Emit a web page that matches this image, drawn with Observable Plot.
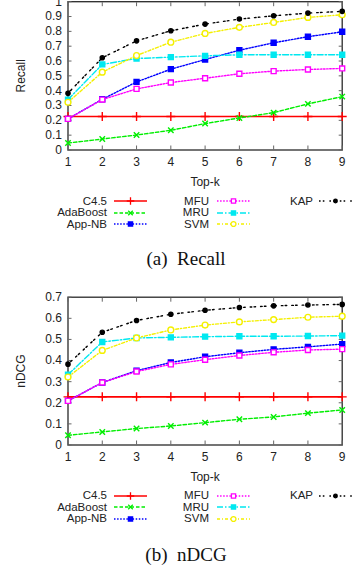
<!DOCTYPE html>
<html><head><meta charset="utf-8">
<script src="https://cdn.jsdelivr.net/npm/d3@7"></script>
<script src="https://cdn.jsdelivr.net/npm/@observablehq/plot@0.6"></script>
<style>
body{margin:0;background:#fff;}
#root{position:relative;width:354px;height:571px;overflow:hidden;font-family:"Liberation Sans",Arial,sans-serif;color:#222;}
.panel{position:absolute;left:0;}
.lab{position:absolute;font-size:11.5px;line-height:11px;height:11px;text-align:right;white-space:nowrap;}
.sample{position:absolute;overflow:visible;}
.cap{position:absolute;left:0;width:372px;text-align:center;font-family:"Liberation Serif","Times New Roman",serif;font-size:19px;line-height:22px;white-space:pre;color:#111;}
</style></head><body><div id="root"></div>
<script>
// ---- data ----
const topK = [1, 2, 3, 4, 5, 6, 7, 8, 9];
const methods = ["C4.5", "AdaBoost", "App-NB", "MFU", "MRU", "SVM", "KAP"];

const recallC45      = [0.226, 0.226, 0.226, 0.226, 0.226, 0.226, 0.226, 0.226, 0.226];
const recallAdaBoost = [0.047, 0.074, 0.101, 0.133, 0.178, 0.216, 0.252, 0.311, 0.360];
const recallAppNB    = [0.210, 0.342, 0.459, 0.545, 0.610, 0.673, 0.723, 0.764, 0.797];
const recallMFU      = [0.210, 0.340, 0.412, 0.455, 0.484, 0.514, 0.532, 0.543, 0.550];
const recallMRU      = [0.340, 0.577, 0.617, 0.626, 0.635, 0.642, 0.642, 0.642, 0.642];
const recallSVM      = [0.322, 0.525, 0.637, 0.727, 0.786, 0.827, 0.860, 0.894, 0.912];
const recallKAP      = [0.383, 0.622, 0.736, 0.804, 0.849, 0.883, 0.905, 0.923, 0.935];

const ndcgC45      = [0.228, 0.228, 0.228, 0.228, 0.228, 0.228, 0.228, 0.228, 0.228];
const ndcgAdaBoost = [0.046, 0.062, 0.078, 0.090, 0.106, 0.122, 0.133, 0.151, 0.166];
const ndcgAppNB    = [0.209, 0.296, 0.352, 0.391, 0.418, 0.437, 0.453, 0.465, 0.478];
const ndcgMFU      = [0.209, 0.296, 0.348, 0.382, 0.404, 0.424, 0.439, 0.450, 0.454];
const ndcgMRU      = [0.333, 0.488, 0.507, 0.510, 0.513, 0.515, 0.515, 0.516, 0.518];
const ndcgSVM      = [0.322, 0.448, 0.507, 0.545, 0.568, 0.583, 0.594, 0.605, 0.610];
const ndcgKAP      = [0.383, 0.534, 0.590, 0.619, 0.638, 0.651, 0.659, 0.663, 0.666];

const recallTicks = [0, 0.1, 0.2, 0.3, 0.4, 0.5, 0.6, 0.7, 0.8, 0.9, 1];
const ndcgTicks = [0, 0.1, 0.2, 0.3, 0.4, 0.5, 0.6, 0.7];

// ---- styles ----
const colors  = ["#ff0000", "#00ee00", "#0000ff", "#ff00ff", "#00e8f0", "#f4f000", "#000000"];
const dashes  = [null, "3.5,2", "1.5,1.6", "1.5,1.6", "6,2,1.5,2", "3,2,1,2", "1.6,2.2,1.6,5"];
const symbols = ["plus", "times", "square", "square", "square", "circle", "circle"];
const filled  = [false, false, true, false, true, false, true];
const radii   = [3.0, 2.6, 2.8, 2.8, 2.8, 2.9, 2.1];

function buildRows(series) {
  const rows = [];
  series.forEach((vals, i) => vals.forEach((v, j) => rows.push({method: methods[i], idx: i, k: topK[j], v})));
  return rows;
}

function panel(series, yMax, yTicks, yLabel, height, marginTop) {
  const rows = buildRows(series);
  const marks = [
    Plot.frame({stroke: "#2a2a2a", strokeWidth: 1.3}),
    Plot.axisX(topK, {anchor: "bottom", tickSize: -4, fill: "none", stroke: "#666", label: null}),
    Plot.axisX(topK, {anchor: "top", tickSize: -4, fill: "none", stroke: "#666", label: null}),
    Plot.axisY(yTicks, {anchor: "left", tickSize: -4, fill: "none", stroke: "#666", label: null}),
    Plot.axisY(yTicks, {anchor: "right", tickSize: -4, fill: "none", stroke: "#666", label: null}),
    Plot.axisX(topK, {anchor: "bottom", tickSize: 0, tickPadding: 7, fill: "#222", label: "Top-k", labelAnchor: "center", labelArrow: "none", labelOffset: 36}),
    Plot.axisY(yTicks, {anchor: "left", tickSize: 0, tickPadding: 6, fill: "#222", tickFormat: d3.format("~g"), label: yLabel, labelAnchor: "center", labelArrow: "none", labelOffset: 52})
  ];
  methods.forEach((m, i) => {
    const d = rows.filter(r => r.idx === i);
    marks.push(Plot.line(d, {x: "k", y: "v", stroke: colors[i], strokeWidth: i === 0 ? 1.7 : 1.4, strokeDasharray: dashes[i]}));
    marks.push(Plot.dot(d, {x: "k", y: "v", symbol: symbols[i], r: radii[i],
      stroke: colors[i], strokeWidth: 1.4, fill: filled[i] ? colors[i] : (symbols[i] === "plus" || symbols[i] === "times" ? "none" : "white")}));
  });
  return Plot.plot({
    width: 354, height, marginLeft: 67.5, marginRight: 12.3, marginTop, marginBottom: 40.5,
    x: {domain: [1, 9]}, y: {domain: [0, yMax]},
    style: {fontFamily: '"Liberation Sans", Arial, sans-serif', fontSize: "12px", overflow: "visible", background: "transparent"},
    marks
  });
}

const root = document.getElementById("root");

function addPanel(top, series, yMax, yTicks, yLabel, height, marginTop) {
  const div = document.createElement("div");
  div.className = "panel";
  div.style.top = top + "px";
  div.appendChild(panel(series, yMax, yTicks, yLabel, height, marginTop));
  root.appendChild(div);
}

function addLegend(rowTop) {
  const labelRight = [107, 209, 313];
  const sampleLeft = [114, 217, 319];
  const sampleW = 33;
  methods.forEach((m, i) => {
    const col = Math.floor(i / 3), row = i % 3;
    const cy = rowTop + row * 11.5;
    const lab = document.createElement("div");
    lab.className = "lab";
    lab.textContent = m;
    lab.style.right = (354 - labelRight[col]) + "px";
    lab.style.top = (cy - 5.5) + "px";
    root.appendChild(lab);
    const ns = "http://www.w3.org/2000/svg";
    const svg = document.createElementNS(ns, "svg");
    svg.setAttribute("class", "sample");
    svg.setAttribute("width", sampleW);
    svg.setAttribute("height", 10);
    svg.style.left = sampleLeft[col] + "px";
    svg.style.top = (cy - 5) + "px";
    const line = document.createElementNS(ns, "line");
    line.setAttribute("x1", 0); line.setAttribute("x2", sampleW);
    line.setAttribute("y1", 5); line.setAttribute("y2", 5);
    line.setAttribute("stroke", colors[i]);
    line.setAttribute("stroke-width", i === 0 ? 1.6 : 1.3);
    if (dashes[i]) line.setAttribute("stroke-dasharray", dashes[i]);
    svg.appendChild(line);
    const sym = {plus: d3.symbolPlus, times: d3.symbolTimes, square: d3.symbolSquare, circle: d3.symbolCircle}[symbols[i]];
    const p = document.createElementNS(ns, "path");
    const rr = radii[i] * 0.85;
    p.setAttribute("d", d3.symbol(sym, rr * rr * Math.PI)());
    p.setAttribute("transform", `translate(${sampleW / 2},5)`);
    p.setAttribute("stroke", colors[i]);
    p.setAttribute("stroke-width", 1.3);
    p.setAttribute("fill", filled[i] ? colors[i] : (symbols[i] === "plus" || symbols[i] === "times" ? "none" : "white"));
    svg.appendChild(p);
    root.appendChild(svg);
  });
}

function addCaption(text, cy) {
  const c = document.createElement("div");
  c.className = "cap";
  c.textContent = text;
  c.style.top = (cy - 11) + "px";
  root.appendChild(c);
}

addPanel(0, [recallC45, recallAdaBoost, recallAppNB, recallMFU, recallMRU, recallSVM, recallKAP], 1, recallTicks, "Recall", 190, 1.2);
addLegend(201);
addCaption("(a)\u00a0 Recall", 259);

addPanel(280, [ndcgC45, ndcgAdaBoost, ndcgAppNB, ndcgMFU, ndcgMRU, ndcgSVM, ndcgKAP], 0.7, ndcgTicks, "nDCG", 205, 16.7);
addLegend(495.5);
addCaption("(b)\u00a0 nDCG", 555);
</script>
</body></html>
